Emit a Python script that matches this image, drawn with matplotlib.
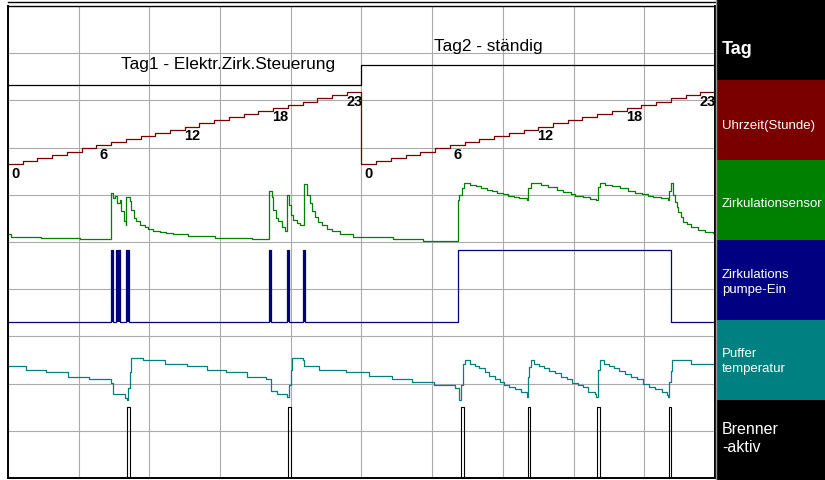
import matplotlib
matplotlib.use("Agg")
import matplotlib.pyplot as plt
import numpy as np
from matplotlib.lines import Line2D
from matplotlib.patches import Rectangle

plt.rcParams["font.family"] = ["Liberation Sans", "DejaVu Sans"]

# ---------------------------------------------------------------------------
# Data: time in hours over two days, levels in grid divisions (0..10)
# ---------------------------------------------------------------------------
day_level = [8.33, 8.75]
day_titles = ["Tag1 - Elektr.Zirk.Steuerung", "Tag2 - ständig"]

clock_hours = [0, 1, 2, 3, 4, 5, 6, 7, 8, 9, 10, 11,
               12, 13, 14, 15, 16, 17, 18, 19, 20, 21, 22, 23]
clock_marks = [0, 6, 12, 18, 23]

sensor_t = [0.00, 0.18, 2.24, 4.89, 6.99, 7.13, 7.26, 7.40, 7.58, 7.69,
            7.88, 8.01, 8.03, 8.26, 8.37, 8.55, 8.71, 8.94, 9.28, 9.50,
            9.84, 10.30, 10.75, 11.20, 12.22, 14.05, 16.54, 17.74, 17.94, 18.01,
            18.17, 18.35, 18.58, 18.80, 18.96, 19.08, 19.21, 19.37, 19.60, 19.82,
            20.07, 20.28, 20.50, 20.66, 20.84, 21.07, 21.30, 21.64, 21.98, 22.54,
            22.99, 23.44, 24.24, 26.16, 28.15, 30.53, 30.64, 30.80, 30.96, 31.36,
            31.77, 32.09, 32.50, 32.84, 33.22, 33.58, 33.96, 34.35, 34.71, 35.21,
            35.32, 35.49, 36.19, 36.68, 37.25, 37.70, 38.22, 38.49, 39.06, 39.51,
            39.92, 40.08, 40.19, 40.53, 40.98, 41.55, 42.11, 42.57, 43.02, 43.47,
            43.81, 44.33, 44.79, 44.90, 45.01, 45.17, 45.28, 45.40, 45.51, 45.67,
            45.85, 46.08, 46.37, 46.86, 47.32, 47.88, 48.00]
sensor_v = [5.18, 5.11, 5.08, 5.06, 6.04, 5.93, 5.97, 5.82, 5.89, 5.66,
            5.44, 5.37, 5.95, 5.87, 5.68, 5.51, 5.44, 5.37, 5.32, 5.28,
            5.24, 5.21, 5.20, 5.17, 5.13, 5.08, 5.06, 6.07, 5.95, 5.68,
            5.51, 5.44, 5.31, 5.24, 6.00, 5.79, 5.58, 5.47, 5.40, 5.37,
            6.23, 6.00, 5.83, 5.65, 5.52, 5.42, 5.35, 5.28, 5.23, 5.18,
            5.16, 5.11, 5.10, 5.06, 5.02, 5.88, 6.00, 6.14, 6.26, 6.21,
            6.19, 6.14, 6.11, 6.07, 6.04, 6.02, 5.97, 5.95, 5.93, 5.90,
            6.14, 6.24, 6.20, 6.16, 6.10, 6.06, 6.01, 5.98, 5.95, 5.92,
            5.89, 6.17, 6.24, 6.21, 6.19, 6.14, 6.08, 6.04, 6.02, 5.97,
            5.95, 5.93, 5.89, 6.07, 6.24, 6.00, 5.85, 5.75, 5.64, 5.54,
            5.43, 5.38, 5.32, 5.25, 5.22, 5.20, 5.20]

pump_low, pump_high = 3.31, 4.83
pump_on = [(6.99, 7.13), (7.33, 7.60), (8.01, 8.19),
           (17.72, 17.85), (18.92, 19.06), (20.03, 20.16),
           (30.57, 45.01)]

puffer_t = [0.00, 1.19, 2.61, 4.09, 5.53, 7.01, 7.16, 7.96, 8.11, 8.18,
            8.25, 8.32, 8.37, 9.19, 10.68, 12.14, 13.53, 14.80, 16.21, 17.50,
            17.83, 18.28, 18.92, 19.10, 19.21, 19.30, 20.05, 20.11, 21.13, 22.93,
            24.53, 26.05, 27.45, 28.92, 30.35, 30.64, 30.78, 30.87, 31.01, 31.37,
            31.70, 32.00, 32.36, 32.68, 33.03, 33.40, 33.67, 34.01, 34.42, 34.81,
            35.21, 35.28, 35.37, 35.48, 35.73, 36.07, 36.41, 36.75, 37.14, 37.54,
            37.93, 38.27, 38.68, 39.02, 39.40, 39.85, 39.95, 40.03, 40.19, 40.48,
            40.82, 41.14, 41.50, 41.89, 42.27, 42.68, 43.13, 43.54, 43.94, 44.38,
            44.72, 44.84, 44.90, 44.99, 45.06, 46.35, 48.00]
puffer_v = [2.37, 2.28, 2.24, 2.15, 2.10, 2.02, 1.78, 1.69, 1.65, 1.90,
            2.25, 2.50, 2.54, 2.49, 2.42, 2.37, 2.29, 2.24, 2.15, 2.10,
            1.85, 1.77, 1.71, 1.97, 2.29, 2.54, 2.49, 2.37, 2.29, 2.25,
            2.16, 2.10, 2.03, 1.97, 1.91, 1.65, 1.97, 2.41, 2.50, 2.41,
            2.37, 2.32, 2.25, 2.16, 2.09, 2.03, 1.97, 1.92, 1.88, 1.82,
            1.72, 2.15, 2.36, 2.50, 2.41, 2.37, 2.32, 2.26, 2.22, 2.15,
            2.09, 2.02, 1.96, 1.92, 1.83, 1.78, 1.72, 2.29, 2.50, 2.41,
            2.37, 2.32, 2.26, 2.20, 2.15, 2.09, 1.99, 1.92, 1.88, 1.82,
            1.76, 1.72, 2.04, 2.27, 2.49, 2.41, 2.41]

burner_low, burner_high = 0.0, 1.5
burner_on = [(8.08, 8.28), (19.03, 19.23), (30.77, 30.94),
             (35.28, 35.42), (40.00, 40.17), (44.85, 44.99)]

panel_labels = ["Tag", "Uhrzeit(Stunde)", "Zirkulationsensor",
                "Zirkulations\npumpe-Ein", "Puffer\ntemperatur", "Brenner\n-aktiv"]
panel_colors = ["#000000", "#7a0000", "#008000", "#000080", "#008080", "#000000"]

# clock staircase: base level and rise per hour (grid divisions)
CLOCK_BASE, CLOCK_STEP = 6.65, 0.0663
HOURS = 48


def _pulse_series(intervals, low, high):
    t, v = [0.0], [low]
    for on, off in intervals:
        t += [on, off]
        v += [high, low]
    t.append(HOURS)
    v.append(low)
    return t, v


W, H = 825, 480
fig = plt.figure(figsize=(W / 100, H / 100), dpi=100)
fig.patch.set_facecolor("white")

ax = fig.add_axes([8 / W, 2 / H, 707 / W, 472 / H])
ax.set_xlim(0, HOURS)
ax.set_ylim(0, 10)
ax.set_xticks(np.linspace(0, HOURS, 11))
ax.set_yticks(np.arange(0, 11))
ax.grid(True, color="#ababab", lw=0.8)
ax.set_axisbelow(True)
ax.tick_params(length=0, labelbottom=False, labelleft=False)
for side in ["left", "bottom", "right"]:
    ax.spines[side].set_linewidth(1.4)
ax.spines["top"].set_linewidth(1.0)

# ── Tag (day) line ─────────────────────────────────────────────────────
ax.step([0, 24, HOURS], [day_level[0], day_level[1], day_level[1]],
        where="post", color="black", lw=0.9)
ax.text(14.95, 8.77, day_titles[0], ha="center", va="center", fontsize=12.4)
ax.text(32.6, 9.15, day_titles[1], ha="center", va="center", fontsize=12.4)

# ── Uhrzeit staircase ──────────────────────────────────────────────────
hours_two_days = clock_hours + clock_hours
clock_t = np.arange(len(hours_two_days) + 1)
clock_v = [CLOCK_BASE + h * CLOCK_STEP for h in hours_two_days]
clock_v.append(clock_v[-1])
ax.step(clock_t, clock_v, where="post", color="#7a0000", lw=0.9)
for day in range(2):
    for h in clock_marks:
        ax.text(24 * day + h + 0.5, CLOCK_BASE + h * CLOCK_STEP - 0.2, str(h),
                ha="center", va="center", fontsize=10.5, fontweight="bold")

# ── Zirkulationsensor ──────────────────────────────────────────────────
ax.step(sensor_t, sensor_v, where="post", color="#008000", lw=0.9)

# ── Zirkulationspumpe ──────────────────────────────────────────────────
pt, pv = _pulse_series(pump_on, pump_low, pump_high)
ax.step(pt, pv, where="post", color="#000080", lw=0.9)
for on, off in pump_on:
    if off - on < 0.5:
        ax.fill_between([on, off], pump_low, pump_high, color="#000080", lw=0)

# ── Puffertemperatur ───────────────────────────────────────────────────
ax.step(puffer_t, puffer_v, where="post", color="#008080", lw=0.9)

# ── Brenner aktiv ──────────────────────────────────────────────────────
bt, bv = _pulse_series(burner_on, burner_low, burner_high)
ax.step(bt, bv, where="post", color="black", lw=0.8)

# second line of the window frame above the chart
fig.add_artist(Line2D([8 / W, 715 / W], [1 - 2 / H] * 2, color="black", lw=1.0))

# ── legend panel on the right ──────────────────────────────────────────
pax = fig.add_axes([716.5 / W, 0, (W - 716.5) / W, 1])
pax.set_xlim(0, 1)
pax.set_ylim(len(panel_labels), 0)
pax.axis("off")
label_y = [0.62, 0.58, 0.55, 0.53, 0.52, 0.48]
label_size = [13, 9.5, 9.5, 9.5, 9.5, 11.5]
label_weight = ["bold", "normal", "normal", "normal", "normal", "normal"]
for i, (lab, col) in enumerate(zip(panel_labels, panel_colors)):
    pax.add_patch(Rectangle((0, i), 1, 1, color=col, lw=0))
    pax.text(0.05, i + label_y[i], lab, color="white", ha="left", va="center",
             fontsize=label_size[i], fontweight=label_weight[i], linespacing=1.25)
fig.add_artist(Line2D([715.5 / W] * 2, [0, 1], color="#9a9a9a", lw=1.0))

fig.savefig("out.png", dpi=100)
